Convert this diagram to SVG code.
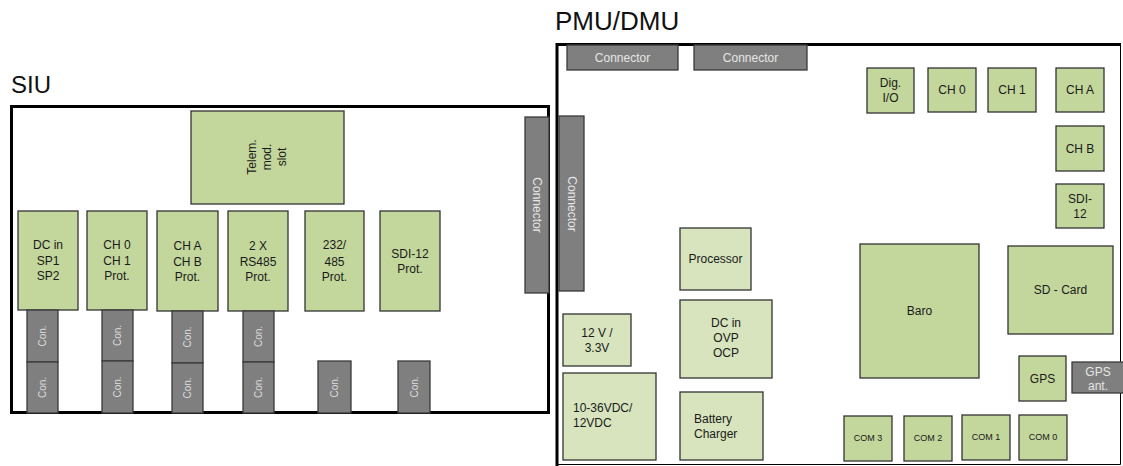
<svg xmlns="http://www.w3.org/2000/svg" width="1123" height="466" viewBox="0 0 1123 466">
<style>
text{font-family:"Liberation Sans",Arial,sans-serif;fill:#1a1a1a}
.g{fill:#c3d69b;stroke:#333;stroke-width:1.3}
.l{fill:#d7e4bd;stroke:#333;stroke-width:1.3}
.c{fill:#7f7f7f;stroke:#3a3a3a;stroke-width:1.3}
.t{font-size:12px;text-anchor:middle}
.tl{font-size:12px}
.ct{font-size:12px;text-anchor:middle;fill:#e6e6e6}
.cs{font-size:10px;text-anchor:middle;fill:#dcdcdc}
.cm{font-size:9px;text-anchor:middle}
.title{font-size:24px;fill:#111}
</style>
<rect x="0" y="0" width="1123" height="466" fill="#fff"/>

<g id="siu">
<text class="title" x="11" y="93" font-size="23">SIU</text>
<rect x="11.5" y="106.5" width="537" height="306" fill="none" stroke="#000" stroke-width="3"/>
</g>
<g id="pmu">
<text class="title" x="555" y="30" style="font-size:26px">PMU/DMU</text>
<path d="M1120.5 44.5 V464.5 H557" fill="none" stroke="#000" stroke-width="1"/>
<path d="M557 466 V44.5 H1121" fill="none" stroke="#000" stroke-width="3"/>
</g>

<g id="siu-connector">
<rect class="c" x="525" y="117" width="24" height="176"/>
<text class="ct" transform="translate(537,205) rotate(90)" y="4">Connector</text>
</g>
<g id="telem">
<rect class="g" x="191" y="111" width="153" height="93"/>
<text class="t" transform="translate(267,157) rotate(-90)"><tspan x="0" y="-11">Telem.</tspan><tspan x="0" y="4">mod.</tspan><tspan x="0" y="19">slot</tspan></text>
</g>
<g id="dcin-siu">
<rect class="g" x="18" y="211" width="60" height="99"/>
<text class="t"><tspan x="48" y="249">DC in</tspan><tspan x="48" y="265">SP1</tspan><tspan x="48" y="280">SP2</tspan></text>
</g>
<g id="ch01-siu">
<rect class="g" x="87" y="211" width="60" height="99"/>
<text class="t"><tspan x="117" y="249">CH 0</tspan><tspan x="117" y="265">CH 1</tspan><tspan x="117" y="280">Prot.</tspan></text>
</g>
<g id="chab-siu">
<rect class="g" x="157" y="211" width="61" height="100"/>
<text class="t"><tspan x="187.5" y="250">CH A</tspan><tspan x="187.5" y="266">CH B</tspan><tspan x="187.5" y="281">Prot.</tspan></text>
</g>
<g id="rs485-siu">
<rect class="g" x="228" y="211" width="60" height="100"/>
<text class="t"><tspan x="258" y="250">2 X</tspan><tspan x="258" y="266">RS485</tspan><tspan x="258" y="281">Prot.</tspan></text>
</g>
<g id="r232-siu">
<rect class="g" x="305" y="211" width="59" height="100"/>
<text class="t"><tspan x="334.5" y="249">232/</tspan><tspan x="334.5" y="266">485</tspan><tspan x="334.5" y="281">Prot.</tspan></text>
</g>
<g id="sdi12-siu">
<rect class="g" x="380" y="211" width="60" height="100"/>
<text class="t"><tspan x="410" y="258">SDI-12</tspan><tspan x="410" y="273">Prot.</tspan></text>
</g>

<g id="con1a"><rect class="c" x="27" y="310" width="31" height="52"/><text class="cs" transform="translate(42.5,336) rotate(-90)" y="3.5">Con.</text></g>
<g id="con1b"><rect class="c" x="27" y="362" width="31" height="51"/><text class="cs" transform="translate(42.5,387.5) rotate(-90)" y="3.5">Con.</text></g>
<g id="con2a"><rect class="c" x="102" y="310" width="31" height="51"/><text class="cs" transform="translate(117.5,335.5) rotate(-90)" y="3.5">Con.</text></g>
<g id="con2b"><rect class="c" x="102" y="361" width="31" height="52"/><text class="cs" transform="translate(117.5,387) rotate(-90)" y="3.5">Con.</text></g>
<g id="con3a"><rect class="c" x="172" y="311" width="31" height="52"/><text class="cs" transform="translate(187.5,337) rotate(-90)" y="3.5">Con.</text></g>
<g id="con3b"><rect class="c" x="172" y="363" width="31" height="50"/><text class="cs" transform="translate(187.5,388) rotate(-90)" y="3.5">Con.</text></g>
<g id="con4a"><rect class="c" x="243" y="311" width="31" height="51"/><text class="cs" transform="translate(258.5,336.5) rotate(-90)" y="3.5">Con.</text></g>
<g id="con4b"><rect class="c" x="243" y="362" width="31" height="51"/><text class="cs" transform="translate(258.5,387.5) rotate(-90)" y="3.5">Con.</text></g>
<g id="con5"><rect class="c" x="318" y="361" width="33" height="52"/><text class="cs" transform="translate(334.5,387) rotate(-90)" y="3.5">Con.</text></g>
<g id="con6"><rect class="c" x="398" y="361" width="32" height="52"/><text class="cs" transform="translate(414,387) rotate(-90)" y="3.5">Con.</text></g>

<g id="pmu-connector-left">
<rect class="c" x="559" y="116" width="25" height="175"/>
<text class="ct" transform="translate(571.5,204) rotate(90)" y="4">Connector</text>
</g>
<g id="pmu-connector-top1">
<rect class="c" x="567" y="45" width="111" height="25"/>
<text class="ct" x="622.5" y="61.5">Connector</text>
</g>
<g id="pmu-connector-top2">
<rect class="c" x="694" y="45" width="113" height="25"/>
<text class="ct" x="750.5" y="61.5">Connector</text>
</g>

<g id="dig-io"><rect class="g" x="867" y="68" width="47" height="45"/><text class="t"><tspan x="890.5" y="87">Dig.</tspan><tspan x="890.5" y="102">I/O</tspan></text></g>
<g id="ch0"><rect class="g" x="928" y="68" width="48" height="44"/><text class="t" x="952" y="94">CH 0</text></g>
<g id="ch1"><rect class="g" x="988" y="68" width="48" height="44"/><text class="t" x="1012" y="94">CH 1</text></g>
<g id="cha"><rect class="g" x="1056" y="68" width="48" height="44"/><text class="t" x="1080" y="94">CH A</text></g>
<g id="chb"><rect class="g" x="1056" y="126" width="48" height="45"/><text class="t" x="1080" y="153">CH B</text></g>
<g id="sdi12"><rect class="g" x="1056" y="184" width="48" height="44"/><text class="t"><tspan x="1080" y="203">SDI-</tspan><tspan x="1080" y="218">12</tspan></text></g>
<g id="baro"><rect class="g" x="860" y="244" width="119" height="134"/><text class="t" x="919.5" y="315">Baro</text></g>
<g id="sdcard"><rect class="g" x="1008" y="246" width="105" height="88"/><text class="t" x="1060.5" y="294">SD - Card</text></g>
<g id="gps"><rect class="g" x="1019" y="356" width="47" height="45"/><text class="t" x="1042.5" y="383">GPS</text></g>
<g id="gps-ant"><rect class="c" x="1072" y="362" width="53" height="31"/><text class="ct"><tspan x="1098" y="376">GPS</tspan><tspan x="1098" y="390">ant.</tspan></text></g>
<g id="com3"><rect class="g" x="844" y="416" width="48" height="45"/><text class="cm" x="868" y="441">COM 3</text></g>
<g id="com2"><rect class="g" x="904" y="416" width="48" height="45"/><text class="cm" x="928" y="441">COM 2</text></g>
<g id="com1"><rect class="g" x="962" y="415" width="48" height="45"/><text class="cm" x="986" y="440">COM 1</text></g>
<g id="com0"><rect class="g" x="1019" y="415" width="48" height="45"/><text class="cm" x="1043" y="440">COM 0</text></g>

<g id="processor"><rect class="l" x="680" y="228" width="71" height="62"/><text class="t" x="715.5" y="263">Processor</text></g>
<g id="dcin-pmu"><rect class="l" x="680" y="300" width="92" height="78"/><text class="t"><tspan x="726" y="327">DC in</tspan><tspan x="726" y="342">OVP</tspan><tspan x="726" y="357">OCP</tspan></text></g>
<g id="v12-33"><rect class="l" x="563" y="314" width="68" height="52"/><text class="t"><tspan x="597" y="337">12 V /</tspan><tspan x="597" y="352">3.3V</tspan></text></g>
<g id="v10-36"><rect class="l" x="563" y="373" width="93" height="87"/><text class="tl"><tspan x="573" y="412">10-36VDC/</tspan><tspan x="573" y="427">12VDC</tspan></text></g>
<g id="battery"><rect class="l" x="680" y="392" width="83" height="68"/><text class="tl"><tspan x="694" y="423">Battery</tspan><tspan x="694" y="438">Charger</tspan></text></g>

<g id="connectors"></g>
</svg>
